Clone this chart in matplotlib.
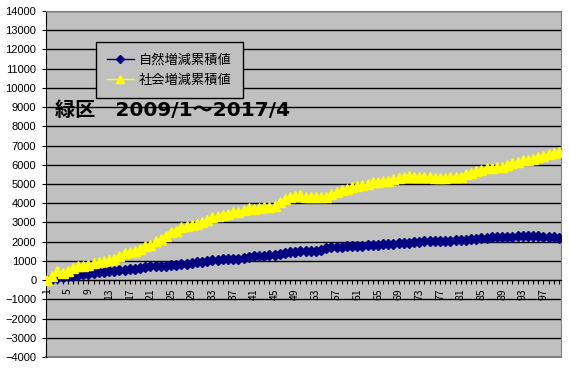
import matplotlib
matplotlib.use("Agg")
import matplotlib.pyplot as plt
import numpy as np

plt.rcParams['font.family'] = ['Noto Sans CJK JP', 'DejaVu Sans']

months = list(range(1, 101))

natural = [0, 40, 100, 140, 190, 220, 260, 300, 330, 370,
           400, 440, 470, 500, 520, 540, 570, 600, 640, 680,
           710, 720, 740, 760, 780, 800, 830, 860, 880, 920,
           960, 1010, 1050, 1070, 1080, 1080, 1090, 1120, 1160, 1200,
           1230, 1260, 1280, 1300, 1330, 1370, 1400, 1440, 1470, 1490,
           1500, 1500, 1520, 1580, 1650, 1700, 1730, 1740, 1760, 1770,
           1780, 1800, 1820, 1830, 1850, 1870, 1880, 1900, 1920, 1940,
           1950, 1970, 1990, 2010, 2030, 2030, 2030, 2040, 2060, 2070,
           2080, 2100, 2130, 2160, 2180, 2200, 2220, 2240, 2250, 2260,
           2260, 2270, 2270, 2280, 2290, 2300, 2250, 2240, 2220, 2180]

social = [0, 200, 480, 360, 500, 620, 730, 730, 800, 870,
          950, 1000, 1050, 1100, 1230, 1390, 1440, 1520, 1600, 1750,
          1830, 2040, 2130, 2300, 2510, 2560, 2740, 2820, 2860, 2910,
          3000, 3120, 3260, 3310, 3380, 3440, 3550, 3550, 3650, 3740,
          3690, 3770, 3810, 3810, 3860, 4070, 4240, 4300, 4350, 4420,
          4300, 4300, 4300, 4300, 4330, 4470, 4590, 4690, 4760, 4850,
          4900, 4940, 4990, 5080, 5110, 5140, 5140, 5250, 5310, 5340,
          5420, 5370, 5370, 5390, 5340, 5290, 5290, 5290, 5340, 5340,
          5340, 5500, 5590, 5680, 5730, 5820, 5820, 5890, 5900, 5980,
          6070, 6160, 6230, 6270, 6290, 6390, 6480, 6570, 6620, 6690]

labels = ["自然増減累積値", "社会増減累積値"]
title = "緑区　2009/1～2017/4"

fig = plt.figure(figsize=(5.7, 3.7), dpi=100)
ax = fig.add_axes([46/570, 13/370, 515/570, 346/370])
ax.set_facecolor('#C0C0C0')

ax.plot(months, natural, color='#000080', lw=1, marker='D', ms=5,
        label=labels[0], zorder=3)
ax.plot(months, social, color='#FFFF00', lw=1, marker='^', ms=7,
        label=labels[1], zorder=3)

ax.set_ylim(-4000, 14000)
ax.set_yticks(range(-4000, 14001, 1000))
ax.set_xlim(0.8, 100.4)
ax.grid(axis='y', color='black', lw=1)
ax.set_axisbelow(True)

ax.set_xticks(months)
ax.set_xticklabels([str(m) if (m - 1) % 4 == 0 else '' for m in months])
ax.tick_params(axis='x', direction='out', length=3, width=0.8, pad=3,
               labelrotation=90, labelsize=7.5)
ax.tick_params(axis='y', direction='out', length=3, width=0.8, pad=4,
               labelsize=8)
for t in ax.get_xticklabels() + ax.get_yticklabels():
    t.set_family('Liberation Sans')

ax.spines['bottom'].set_position(('data', 0))
ax.spines['bottom'].set_color('black')
ax.spines['left'].set_color('black')
ax.spines['top'].set_color('#808080')
ax.spines['right'].set_color('#808080')
ax.axhline(-4000, color='#808080', lw=1.5, clip_on=False)

ax.text(0.018, 0.712, title, transform=ax.transAxes, fontsize=14.5,
        fontweight='bold', va='center', ha='left',
        family=['DejaVu Sans', 'Noto Sans CJK JP'])

leg = ax.legend(loc='upper left', bbox_to_anchor=(96/570, 1 - 42/370),
                bbox_transform=fig.transFigure, fontsize=9.5, frameon=True,
                fancybox=False, framealpha=1, facecolor='#C0C0C0',
                edgecolor='black', handlelength=2.0, handletextpad=0.4,
                borderpad=0.85, labelspacing=0.55, borderaxespad=0,
                markerscale=0.8)
leg.get_frame().set_linewidth(1)

fig.savefig('out.png', dpi=100)
